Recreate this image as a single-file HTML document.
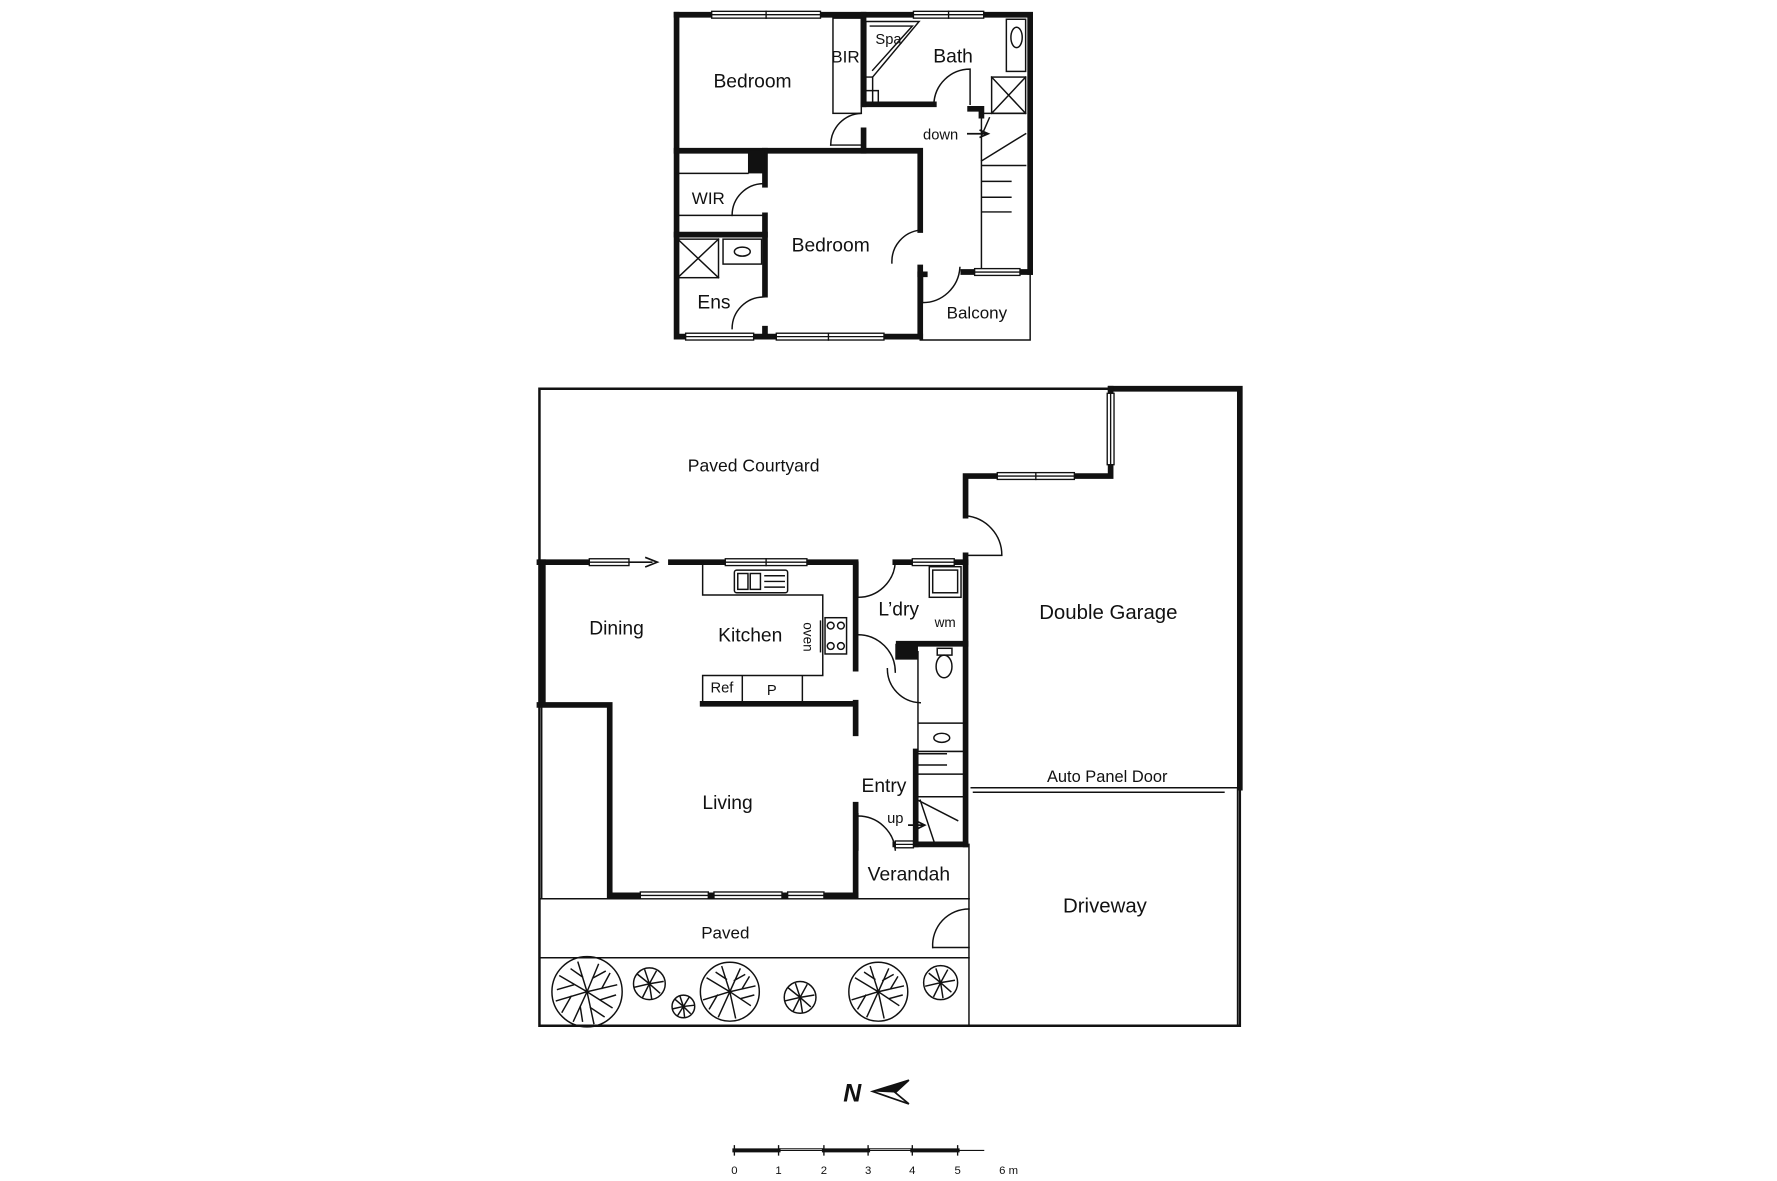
<!DOCTYPE html>
<html><head><meta charset="utf-8"><style>
html,body{margin:0;padding:0;background:#fff;width:1777px;height:1181px;overflow:hidden}
svg{display:block}
text{font-family:"Liberation Sans",sans-serif;fill:#111}
</style></head><body>
<svg width="1777" height="1181" viewBox="0 0 1568 1042" preserveAspectRatio="none" xmlns="http://www.w3.org/2000/svg">
<g fill="none" stroke="#111" stroke-linecap="square">
<!-- ===== UPPER FLOOR ===== -->
<g stroke-width="5">
<path d="M597,13 H909 V240"/>
<path d="M597,13 V297 H812"/>
<path d="M762,13 V92"/><path d="M762,92 H824"/><path d="M856,96 H866 V102"/>
<path d="M762,115 V133"/>
<path d="M597,133 H812 V203"/><path d="M812,236 V242 H816"/>
<path d="M812,242 V297"/>
<path d="M675,133 V163"/><path d="M675,190 V260"/><path d="M675,290 V297"/>
<path d="M597,207 H675"/>
<path d="M850,240 H909"/>
</g>
<rect x="660" y="133" width="15" height="20" fill="#111" stroke="none"/>
<g stroke-width="1.3">
<path d="M597,153 H660"/><path d="M597,190 H675"/>
<rect x="735" y="16" width="25" height="84"/>
<path d="M764,19 H811 L770,68 H764 Z M768,23 H805 L770,62"/>
<path d="M764,68 V92 M770,68 V92 M764,80 H775 V92"/>
<rect x="888" y="17" width="17" height="46"/><ellipse cx="897" cy="33" rx="5" ry="9"/>
<rect x="875" y="68" width="30" height="32"/><path d="M875,68 L905,100 M905,68 L875,100"/>
<path d="M866,100 V240 M866,100 H905 M866,146 H905 M866,160 H892 M866,174 H892 M866,187 H892 M866,120 L873,104 M866,142 L905,118"/>
<rect x="598" y="211" width="36" height="34"/><path d="M598,211 L634,245 M634,211 L598,245"/>
<rect x="638" y="211" width="34" height="22"/><ellipse cx="655" cy="222" rx="7" ry="4"/>
<path d="M909,240 V300 H812"/>
<!-- door arcs -->
<path d="M824,92 A32,32 0 0 1 856,61 V92"/>
<path d="M733,128 A28,28 0 0 1 760,100"/><path d="M733,128 H760"/>
<path d="M646,190 A28,28 0 0 1 674,162"/>
<path d="M646,290 A28,28 0 0 1 674,262"/>
<path d="M787,232 A28,28 0 0 1 812,203"/>
<path d="M814,242 V267 A33,33 0 0 0 847,236"/>
<path d="M854,118 H870 M865,115 L872,118 L865,121" stroke-width="1.5"/>
</g>
<!-- upper windows -->
<g fill="#fff" stroke-width="1.2">
<rect x="628" y="10" width="96" height="6"/><path d="M628,13 H724 M676,10 V16"/>
<rect x="806" y="10" width="62" height="6"/><path d="M806,13 H868 M837,10 V16"/>
<rect x="605" y="294" width="60" height="6"/><path d="M605,297 H665"/>
<rect x="685" y="294" width="95" height="6"/><path d="M685,297 H780 M731,294 V300"/>
<rect x="860" y="237" width="40" height="6"/><path d="M860,240 H900"/>
</g>

<!-- ===== GROUND FLOOR ===== -->
<g stroke-width="2.2"><path d="M980,343 H476 V905 H1094 V695"/></g>
<g stroke-width="5">
<path d="M980,343 H1094 V695"/>
<path d="M980,343 V420 H852 V455"/><path d="M852,490 V745"/>
<path d="M476,496 H520"/><path d="M592,496 H755 V590"/><path d="M755,620 V647"/><path d="M755,710 V790"/>
<path d="M479,496 V620"/><path d="M476,622 H538 V790 H755"/>
<path d="M620,621 H753"/>
<path d="M790,496 H852"/>
<path d="M793,568 H852"/>
<path d="M808,663 V745 H852"/><path d="M790,745 H808"/>
</g>
<rect x="790" y="568" width="20" height="14" fill="#111" stroke="none"/>
<g stroke-width="1.3">
<path d="M857,695 H1094"/><path d="M859,699 H1080"/>
<path d="M1092,695 V905"/><path d="M855,745 V905"/>
<path d="M476,793 H855 M476,845 H855"/>
<path d="M755,745 V793 H855"/>
<path d="M620,496 V525 H726 V596 H620 V621 M655,596 V621 M708,596 V621"/>
<rect x="648" y="503" width="47" height="20" rx="2"/><rect x="651" y="506" width="9" height="14"/><rect x="662" y="506" width="9" height="14"/><path d="M675,508 H692 M675,513 H692 M675,518 H692"/>
<rect x="728" y="545" width="19" height="32"/><circle cx="733" cy="552" r="3"/><circle cx="742" cy="552" r="3"/><circle cx="733" cy="570" r="3"/><circle cx="742" cy="570" r="3"/>
<path d="M724,548 V575"/>
<rect x="820" y="500" width="28" height="27"/><rect x="823" y="503" width="22" height="20"/>
<path d="M810,575 V663 H852 M810,638 H852"/>
<ellipse cx="833" cy="588" rx="7" ry="10"/><rect x="827" y="572" width="13" height="6"/>
<ellipse cx="831" cy="651" rx="7" ry="4"/>
<path d="M808,663 H852 M808,683 H852 M808,703 H852 M808,705 V745 M811,665 H835 M811,675 H835 M808,705 L845,724 M812,706 L825,745"/>
<path d="M802,728 H814 M810,725 L816,728 L810,731" stroke-width="1.5"/>
<path d="M526,496 H575 M570,492 L580,496 L570,500" stroke-width="1.5"/>
<!-- door arcs -->
<path d="M852,455 A35,35 0 0 1 884,490 H852"/>
<path d="M757,527 A33,33 0 0 0 790,496"/><path d="M757,496 V527"/>
<path d="M757,560 A33,33 0 0 1 790,593"/>
<path d="M783,590 A30,30 0 0 0 812,620"/>
<path d="M757,720 A33,33 0 0 1 790,750"/><path d="M757,718 V750"/>
<path d="M823,836 A32,32 0 0 1 855,802"/><path d="M823,836 H855"/>
<path d="M478,622 V793"/>
</g>
<!-- ground windows -->
<g fill="#fff" stroke-width="1.2">
<rect x="520" y="493" width="35" height="6"/><path d="M520,496 H555"/>
<rect x="640" y="493" width="72" height="6"/><path d="M640,496 H712 M676,493 V499"/>
<rect x="805" y="493" width="37" height="6"/><path d="M805,496 H842"/>
<rect x="880" y="417" width="68" height="6"/><path d="M880,420 H948 M914,417 V423"/>
<rect x="977" y="347" width="6" height="63"/><path d="M980,347 V410"/>
<rect x="565" y="787" width="60" height="6"/><path d="M565,790 H625"/>
<rect x="630" y="787" width="60" height="6"/><path d="M630,790 H690"/>
<rect x="695" y="787" width="32" height="6"/><path d="M695,790 H727"/>
<rect x="790" y="742" width="16" height="6"/><path d="M790,745 H806"/>
</g>
<!-- trees -->
<g stroke-width="1.3">
<g transform="translate(518,875)"><circle r="31"/><path d="M0,0 L-8,-26 M0,0 L10,-24 M0,0 L26,-6 M0,0 L22,14 M0,0 L6,28 M0,0 L-12,26 M0,0 L-27,8 M0,0 L-24,-14 M-4,-13 L-14,-20 M5,-12 L16,-18 M13,-3 L20,-16 M12,7 L25,3 M3,14 L15,22 M-6,13 L-4,26 M-14,4 L-22,18 M-12,-6 L-26,-2"/></g>
<g transform="translate(644,875)"><circle r="26"/><path d="M0,0 L-7,-22 M0,0 L9,-20 M0,0 L22,-5 M0,0 L18,12 M0,0 L5,23 M0,0 L-10,22 M0,0 L-23,7 M0,0 L-20,-12 M-3,-11 L-12,-17 M4,-10 L13,-15 M11,-3 L17,-13 M10,6 L21,3 M-11,3 L-18,15"/></g>
<g transform="translate(775,875)"><circle r="26"/><path d="M0,0 L-7,-22 M0,0 L9,-20 M0,0 L22,-5 M0,0 L18,12 M0,0 L5,23 M0,0 L-10,22 M0,0 L-23,7 M0,0 L-20,-12 M-3,-11 L-12,-17 M4,-10 L13,-15 M11,-3 L17,-13 M10,6 L21,3 M-11,3 L-18,15"/></g>
<g transform="translate(573,868)"><circle r="14"/><path d="M0,0 L-4,-12 M0,0 L6,-11 M0,0 L12,-2 M0,0 L9,8 M0,0 L2,13 M0,0 L-6,12 M0,0 L-13,3 M0,0 L-10,-8"/></g>
<g transform="translate(706,880)"><circle r="14"/><path d="M0,0 L-4,-12 M0,0 L6,-11 M0,0 L12,-2 M0,0 L9,8 M0,0 L2,13 M0,0 L-6,12 M0,0 L-13,3 M0,0 L-10,-8"/></g>
<g transform="translate(830,867)"><circle r="15"/><path d="M0,0 L-4,-12 M0,0 L6,-11 M0,0 L12,-2 M0,0 L9,8 M0,0 L2,13 M0,0 L-6,12 M0,0 L-13,3 M0,0 L-10,-8"/></g>
<g transform="translate(603,888)"><circle r="10"/><path d="M0,0 L-3,-9 M0,0 L5,-8 M0,0 L9,-1 M0,0 L6,6 M0,0 L1,9 M0,0 L-5,8 M0,0 L-9,2 M0,0 L-7,-6"/></g>
</g>
<!-- scale bar -->
<path d="M648,1015 H868" stroke-width="1"/>
<path d="M648,1015 H687 M727,1015 H766 M805,1015 H845" stroke-width="3.5"/>
<path d="M687,1015 H727 M766,1015 H805" stroke-width="1"/><path d="M687,1013.5 H727 M766,1013.5 H805" stroke-width="0.8"/>
<path d="M648,1011 V1019 M687,1011 V1019 M727,1011 V1019 M766,1011 V1019 M805,1011 V1019 M845,1011 V1019" stroke-width="1.2"/>
</g>
<path d="M770,963 L802,953 L790,964 L802,974 Z" fill="#fff" stroke="#111" stroke-width="1.5"/>
<path d="M770,963 L802,953 L790,964 Z" fill="#111"/>
<!-- labels -->
<g font-size="17" text-anchor="middle">
<text x="664" y="77">Bedroom</text>
<text x="733" y="222">Bedroom</text>
<text x="841" y="55">Bath</text>
<text x="630" y="272">Ens</text>
<text x="625" y="180" font-size="15">WIR</text>
<text x="746" y="55" font-size="15">BIR</text>
<text x="784" y="39" font-size="13">Spa</text>
<text x="830" y="123" font-size="13">down</text>
<text x="862" y="281" font-size="15">Balcony</text>
<text x="665" y="416" font-size="15.5">Paved Courtyard</text>
<text x="978" y="546" font-size="18">Double Garage</text>
<text x="977" y="690" font-size="14.5">Auto Panel Door</text>
<text x="544" y="560">Dining</text>
<text x="662" y="566">Kitchen</text>
<text x="793" y="543">L’dry</text>
<text x="834" y="553" font-size="12">wm</text>
<text x="637" y="611" font-size="13">Ref</text>
<text x="681" y="613" font-size="13">P</text>
<text x="642" y="714">Living</text>
<text x="780" y="699">Entry</text>
<text x="790" y="726" font-size="13">up</text>
<text x="802" y="777">Verandah</text>
<text x="640" y="828" font-size="15">Paved</text>
<text x="975" y="805" font-size="18">Driveway</text>
<text x="709" y="562" font-size="12" transform="rotate(90 709 562)">oven</text>
<text x="752" y="972" font-size="22" font-weight="bold" font-style="italic">N</text>
<g font-size="10"><text x="648" y="1036">0</text><text x="687" y="1036">1</text><text x="727" y="1036">2</text><text x="766" y="1036">3</text><text x="805" y="1036">4</text><text x="845" y="1036">5</text><text x="890" y="1036">6 m</text></g>
</g>
</svg>
</body></html>
